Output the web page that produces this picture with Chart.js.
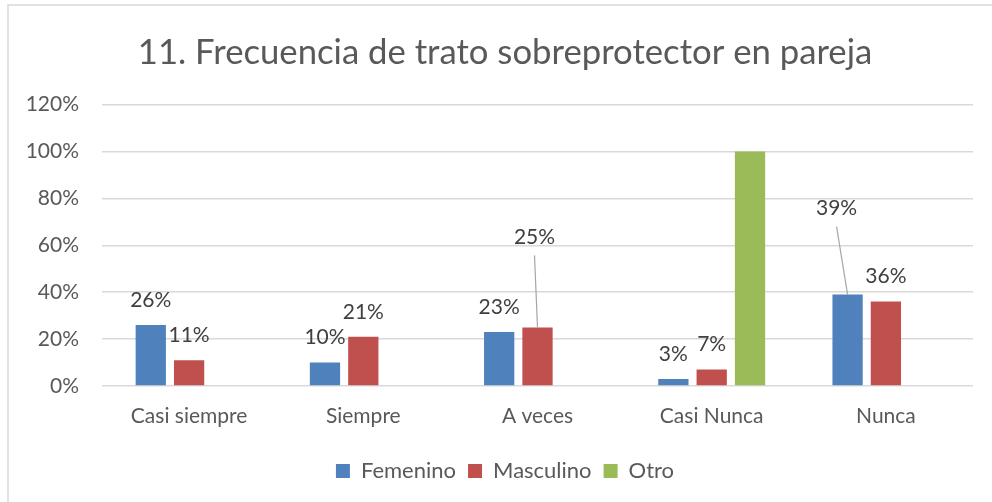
<!DOCTYPE html>
<html>
<head>
<meta charset="utf-8">
<script src="https://cdn.jsdelivr.net/npm/chart.js@4"></script>
<style>
  html, body { margin: 0; padding: 0; background: #fff; overflow: hidden; }
  .wrap { position: relative; width: 992px; height: 502px; overflow: hidden; }
</style>
</head>
<body>
<div class="wrap"><canvas id="chart" width="1010" height="502"></canvas></div>
<script>
const categories = ['Casi siempre', 'Siempre', 'A veces', 'Casi Nunca', 'Nunca'];
const femenino = [26, 10, 23, 3, 39];
const masculino = [11, 21, 25, 7, 36];
const otro = [null, null, null, 100, null];
const yTicks = [0, 20, 40, 60, 80, 100, 120];

const FONT = 'Lato, "Open Sans", sans-serif';

// labels that Excel moved up with a leader line: key "dataset-index"
const movedLabels = {
  '1-2': { dx: -3, lift: 90 },
  '0-4': { dx: -11, lift: 86 }
};

const frame = {
  id: 'frame',
  beforeDraw(chart) {
    const ctx = chart.ctx;
    ctx.save();
    ctx.strokeStyle = '#d9d9d9';
    ctx.lineWidth = 1.5;
    ctx.strokeRect(8, 5, 1100, 1100);
    ctx.restore();
  }
};

const barLabels = {
  id: 'barLabels',
  afterDatasetsDraw(chart) {
    const ctx = chart.ctx;
    ctx.save();
    ctx.font = '21px ' + FONT;
    ctx.fillStyle = '#404040';
    ctx.textAlign = 'center';
    ctx.textBaseline = 'middle';
    chart.data.datasets.forEach((ds, di) => {
      if (!ds.showLabels) return;
      chart.getDatasetMeta(di).data.forEach((bar, i) => {
        const v = ds.data[i];
        if (v == null) return;
        const moved = movedLabels[di + '-' + i];
        const dx = moved ? moved.dx : 0;
        const lift = moved ? moved.lift : 25;
        const tx = bar.x + dx;
        const ty = bar.y - lift;
        if (moved) {
          ctx.strokeStyle = '#a6a6a6';
          ctx.lineWidth = 1.2;
          ctx.beginPath();
          ctx.moveTo(tx, ty + 18);
          ctx.lineTo(bar.x, bar.y);
          ctx.stroke();
        }
        ctx.fillText(v + '%', tx, ty);
      });
    });
    ctx.restore();
  }
};

new Chart(document.getElementById('chart'), {
  type: 'bar',
  data: {
    labels: categories,
    datasets: [
      { label: 'Femenino', data: femenino, backgroundColor: '#4f81bd', showLabels: true },
      { label: 'Masculino', data: masculino, backgroundColor: '#c0504d', showLabels: true },
      { label: 'Otro', data: otro, backgroundColor: '#9bbb59', showLabels: false }
    ]
  },
  options: {
    responsive: false,
    animation: false,
    devicePixelRatio: 1,
    layout: { padding: { left: 0, right: 0, top: 0, bottom: 10 } },
    categoryPercentage: 0.66,
    barPercentage: 0.79,
    plugins: {
      title: {
        display: true,
        text: '11. Frecuencia de trato sobreprotector en pareja',
        color: '#595959',
        font: { family: FONT, size: 34.7, weight: 'normal' },
        padding: { top: 32, bottom: 31 }
      },
      legend: {
        position: 'bottom',
        labels: {
          color: '#595959',
          font: { family: FONT, size: 22 },
          boxWidth: 14,
          boxHeight: 14,
          padding: 12
        }
      },
      tooltip: { enabled: false }
    },
    scales: {
      x: {
        grid: { display: false, drawTicks: false },
        border: { display: false },
        ticks: { color: '#595959', font: { family: FONT, size: 21 }, padding: 18, maxRotation: 0 },
        afterFit: (s) => { s.height = 62; }
      },
      y: {
        min: 0,
        max: 120,
        afterBuildTicks: (s) => { s.ticks = yTicks.map((v) => ({ value: v })); },
        grid: { color: '#d9d9d9', lineWidth: 1.5, drawTicks: false },
        border: { display: false },
        ticks: {
          color: '#595959',
          font: { family: FONT, size: 21 },
          padding: 23,
          callback: (v) => v + '%'
        },
        afterFit: (s) => { s.width = 102; }
      },
      // empty right axis, only keeps the plot clear of the right edge
      spacer: {
        position: 'right',
        grid: { display: false },
        border: { display: false },
        ticks: { display: false },
        afterFit: (s) => { s.width = 37; }
      }
    }
  },
  plugins: [frame, barLabels]
});
</script>
</body>
</html>
